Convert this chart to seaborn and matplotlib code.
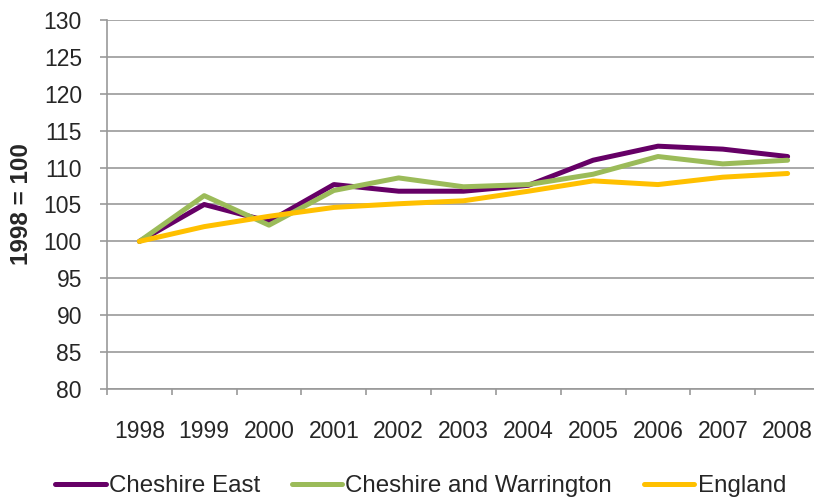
import matplotlib
matplotlib.use("Agg")
import matplotlib.pyplot as plt
import seaborn as sns
import pandas as pd
import numpy as np

# --- data ---
years = [1998, 1999, 2000, 2001, 2002, 2003, 2004, 2005, 2006, 2007, 2008]
cheshire_east = [100, 105.0, 102.7, 107.7, 106.8, 106.8, 107.6, 111.0, 112.9, 112.5, 111.5]
cheshire_warrington = [100, 106.2, 102.2, 106.9, 108.6, 107.4, 107.7, 109.1, 111.5, 110.5, 111.0]
england = [100, 102.0, 103.4, 104.6, 105.1, 105.5, 106.8, 108.2, 107.7, 108.7, 109.2]

series_names = ["Cheshire East", "Cheshire and Warrington", "England"]
colors = ["#660066", "#9BBB59", "#FFC000"]

df = pd.DataFrame({
    "year": years * 3,
    "value": cheshire_east + cheshire_warrington + england,
    "area": [series_names[0]] * 11 + [series_names[1]] * 11 + [series_names[2]] * 11,
})

# --- style ---
sns.set_style("white")
plt.rcParams["font.family"] = ["Liberation Sans", "DejaVu Sans"]

fig = plt.figure(figsize=(8.14, 4.97), dpi=100)
ax = fig.add_axes([0.1314, 0.2173, 1.0074 - 0.1314, 0.9598 - 0.2173])

sns.lineplot(data=df, x="year", y="value", hue="area", hue_order=series_names,
             palette=colors, linewidth=3.6, solid_capstyle="round", ax=ax,
             legend=True)

ax.set_xlim(1997.5, 2008.5)
ax.set_ylim(80, 130)
ax.set_yticks(np.arange(80, 131, 5))
ax.set_xticks(years)
ax.set_xticks([y - 0.5 for y in years] + [2008.5], minor=True)

grid_col = "#999999"
ax.yaxis.grid(True, color=grid_col, linewidth=1.2)
ax.set_axisbelow(True)
for s in ["top", "right"]:
    ax.spines[s].set_visible(False)
for s in ["left", "bottom"]:
    ax.spines[s].set_color(grid_col)
    ax.spines[s].set_linewidth(1.2)

ax.tick_params(axis="y", which="major", left=True, length=5, width=1.2,
               color=grid_col, pad=13, labelsize=16.5)
ax.tick_params(axis="x", which="major", bottom=False, length=0, pad=22, labelsize=16.5)
ax.tick_params(axis="x", which="minor", bottom=True, length=4.5, width=1.2, color=grid_col)

ax.set_xlabel("")
ax.set_ylabel("1998 = 100", fontsize=17.5, fontweight="bold")
ax.yaxis.set_label_coords(-0.104, 0.5)

handles, labels = ax.get_legend_handles_labels()
ax.legend_.remove()
fig.legend(handles, labels, loc="center left", bbox_to_anchor=(55 / 814, 1 - 486 / 497),
           ncol=3, frameon=False, fontsize=17.4, handlelength=2.1, handletextpad=0.13,
           columnspacing=1.3, borderaxespad=0, borderpad=0)

fig.savefig("out.png", dpi=100)
